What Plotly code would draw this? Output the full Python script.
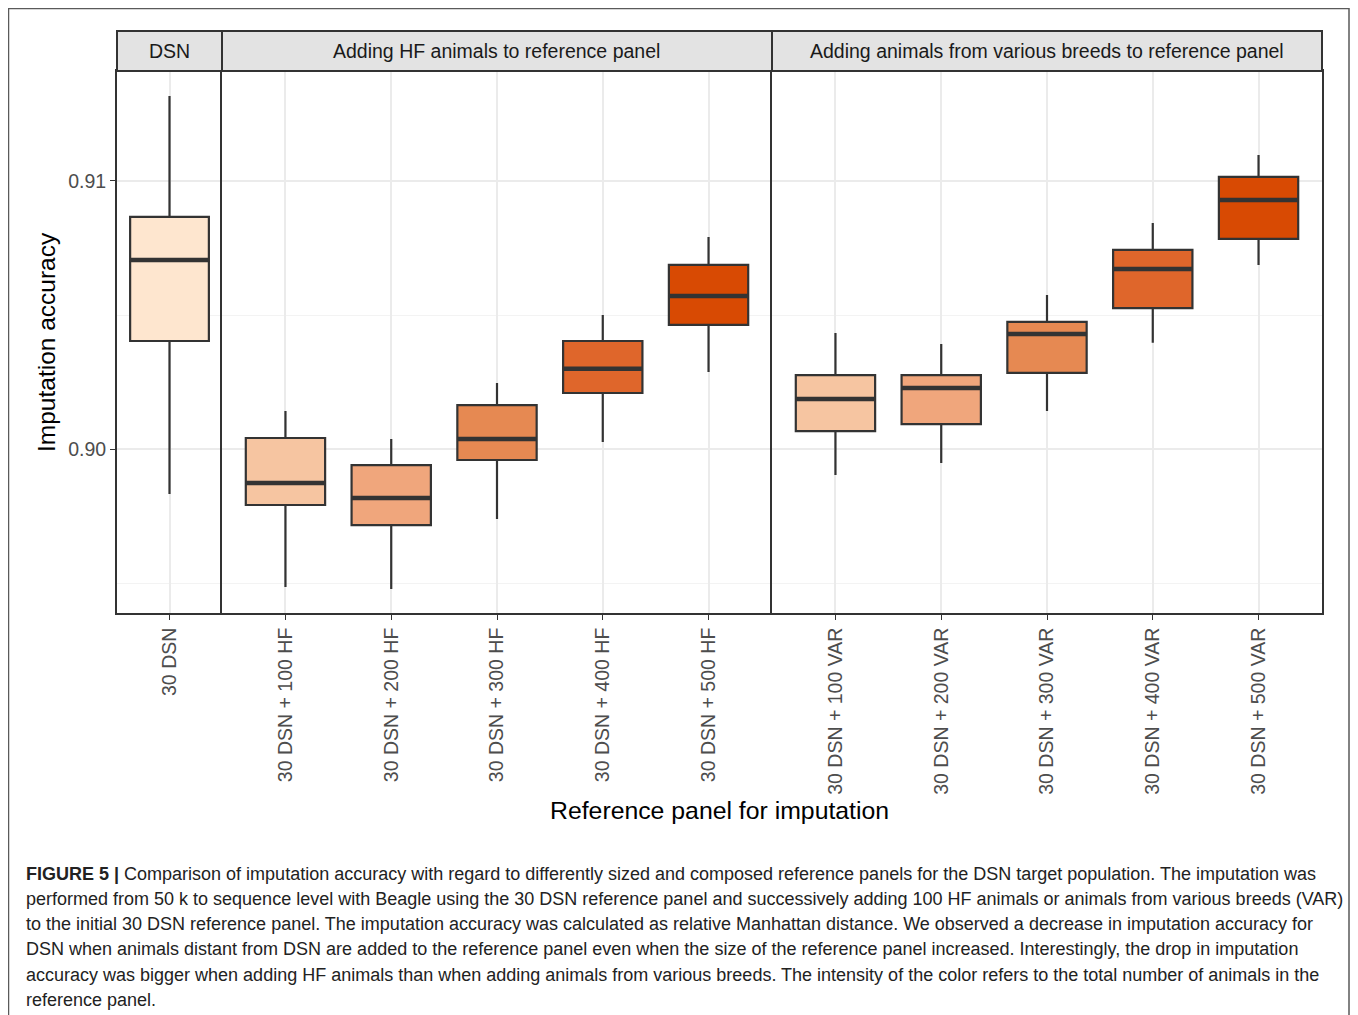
import plotly.graph_objects as go
from plotly.subplots import make_subplots

# ---------------- data ----------------
panel_titles = ["DSN", "Adding HF animals to reference panel",
                "Adding animals from various breeds to reference panel"]
cats_dsn = ["30 DSN"]
cats_hf = ["30 DSN + 100 HF", "30 DSN + 200 HF", "30 DSN + 300 HF",
           "30 DSN + 400 HF", "30 DSN + 500 HF"]
cats_var = ["30 DSN + 100 VAR", "30 DSN + 200 VAR", "30 DSN + 300 VAR",
            "30 DSN + 400 VAR", "30 DSN + 500 VAR"]

low_dsn = [0.89832]
q1_dsn = [0.90403]
med_dsn = [0.90705]
q3_dsn = [0.90866]
high_dsn = [0.91317]

low_hf = [0.89485, 0.89478, 0.89739, 0.90026, 0.90287]
q1_hf = [0.89791, 0.89716, 0.89959, 0.90209, 0.90463]
med_hf = [0.89873, 0.89817, 0.90037, 0.90299, 0.90571]
q3_hf = [0.90041, 0.89940, 0.90164, 0.90403, 0.90687]
high_hf = [0.90142, 0.90037, 0.90246, 0.90500, 0.90791]

low_var = [0.89903, 0.89948, 0.90142, 0.90396, 0.90687]
q1_var = [0.90067, 0.90093, 0.90284, 0.90526, 0.90784]
med_var = [0.90187, 0.90228, 0.90429, 0.90672, 0.90929]
q3_var = [0.90276, 0.90276, 0.90474, 0.90743, 0.91015]
high_var = [0.90433, 0.90392, 0.90575, 0.90843, 0.91097]

color_dsn = ["#FEE6CF"]
colors_added = ["#F6C5A1", "#F0A67C", "#E68952", "#DF662B", "#D84A03"]

caption_lines = [
    "<b>FIGURE 5 |</b> Comparison of imputation accuracy with regard to differently sized and composed reference panels for the DSN target population. The imputation was",
    "performed from 50 k to sequence level with Beagle using the 30 DSN reference panel and successively adding 100 HF animals or animals from various breeds (VAR)",
    "to the initial 30 DSN reference panel. The imputation accuracy was calculated as relative Manhattan distance. We observed a decrease in imputation accuracy for",
    "DSN when animals distant from DSN are added to the reference panel even when the size of the reference panel increased. Interestingly, the drop in imputation",
    "accuracy was bigger when adding HF animals than when adding animals from various breeds. The intensity of the color refers to the total number of animals in the",
    "reference panel.",
]

# ---------------- layout geometry (screen pixels; page body adds 8px offset) ----------------
OFF = 8
W, H = 1358 - 2 * OFF, 1015 - OFF
L, R, T, B = 117 - OFF, 1322 - OFF, 71 - OFF, 613 - OFF
pw, ph = R - L, B - T
FONT = "Liberation Sans, Arial, Helvetica"


def px_x(p):
    return (p - OFF - L) / pw


def px_y(p):
    return (B - (p - OFF)) / ph


fig = make_subplots(rows=1, cols=3, shared_yaxes=True,
                    column_widths=[105, 550, 550], horizontal_spacing=0)

DARK = "#333333"
panels = [
    (cats_dsn, low_dsn, q1_dsn, med_dsn, q3_dsn, high_dsn, color_dsn),
    (cats_hf, low_hf, q1_hf, med_hf, q3_hf, high_hf, colors_added),
    (cats_var, low_var, q1_var, med_var, q3_var, high_var, colors_added),
]

for col, (cats, lo, q1, md, q3, hi, cols) in enumerate(panels, start=1):
    xref = "x" if col == 1 else f"x{col}"
    for i, c in enumerate(cats):
        fig.add_trace(go.Box(
            x=[c], q1=[q1[i]], median=[md[i]], q3=[q3[i]],
            lowerfence=[lo[i]], upperfence=[hi[i]],
            fillcolor=cols[i], line=dict(color=DARK, width=2.2),
            width=0.75, whiskerwidth=0, showlegend=False, hoverinfo="y",
        ), row=1, col=col)
        # thick median line as in ggplot
        fig.add_shape(type="line", xref=xref, yref="y",
                      x0=i - 0.375, x1=i + 0.375, y0=md[i], y1=md[i],
                      line=dict(color=DARK, width=4.5), layer="above")
    n = len(cats)
    pad = 0.5 if n == 1 else 0.6
    fig.update_xaxes(
        row=1, col=col, type="category", categoryorder="array",
        categoryarray=cats, range=[-pad, n - 1 + pad],
        tickangle=-90, tickfont=dict(family=FONT, size=19.5, color="#4D4D4D"),
        showgrid=True, gridcolor="#EBEBEB", gridwidth=1.5,
        showline=True, mirror=True, linecolor=DARK, linewidth=1.8,
        ticks="outside", ticklen=5, tickcolor=DARK, tickwidth=1.2,
        zeroline=False,
    )
    # strip
    dref = ("x" if col == 1 else f"x{col}") + " domain"
    fig.add_shape(type="rect", xref=dref, yref="paper",
                  x0=0, x1=1, y0=px_y(71), y1=px_y(31),
                  fillcolor="#E3E3E3", line=dict(color=DARK, width=2))
    fig.add_annotation(xref=dref, yref="paper", x=0.5, y=px_y(51),
                       text=panel_titles[col - 1], showarrow=False,
                       font=dict(family=FONT, size=19.5, color="#1A1A1A"),
                       xanchor="center", yanchor="middle")

fig.update_yaxes(
    range=[0.893881, 0.914104], tick0=0.9, dtick=0.01, tickformat=".2f",
    showgrid=True, gridcolor="#EBEBEB", gridwidth=1.5,
    minor=dict(dtick=0.005, tick0=0.895, showgrid=True, gridcolor="#F3F3F3", gridwidth=1),
    showline=True, mirror=False, linecolor=DARK, linewidth=2,
    ticks="outside", ticklen=5, tickcolor=DARK, tickwidth=1.2,
    tickfont=dict(family=FONT, size=19.5, color="#4D4D4D"),
    zeroline=False,
)
fig.update_yaxes(ticks="", row=1, col=2)
fig.update_yaxes(ticks="", mirror=True, row=1, col=3)

# axis titles
fig.add_annotation(xref="paper", yref="paper", x=px_x(719.5), y=px_y(810),
                   text="Reference panel for imputation", showarrow=False,
                   font=dict(family=FONT, size=24.8, color="#000000"),
                   xanchor="center", yanchor="middle")
fig.add_annotation(xref="paper", yref="paper", x=px_x(46), y=px_y(342),
                   text="Imputation accuracy", showarrow=False, textangle=-90,
                   font=dict(family=FONT, size=24.5, color="#000000"),
                   xanchor="center", yanchor="middle")

# caption
line_y = [874, 899, 924, 949, 975, 1000]
for txt, yy in zip(caption_lines, line_y):
    fig.add_annotation(xref="paper", yref="paper", x=px_x(24), y=px_y(yy),
                       text=txt, showarrow=False, align="left",
                       font=dict(family=FONT, size=18.0, color="#222222"),
                       xanchor="left", yanchor="middle")

# outer frame
fig.add_shape(type="rect", xref="paper", yref="paper",
              x0=px_x(8.5), x1=(W - 1 - L) / pw, y0=px_y(1030), y1=px_y(8.5),
              line=dict(color="#5A5A5A", width=1.5), fillcolor="rgba(0,0,0,0)", layer="below")

fig.update_layout(
    width=W, height=H,
    margin=dict(l=L, r=W - R, t=T, b=H - B),
    paper_bgcolor="white", plot_bgcolor="white",
    boxmode="overlay", showlegend=False,
)

fig.write_html("out.html")
